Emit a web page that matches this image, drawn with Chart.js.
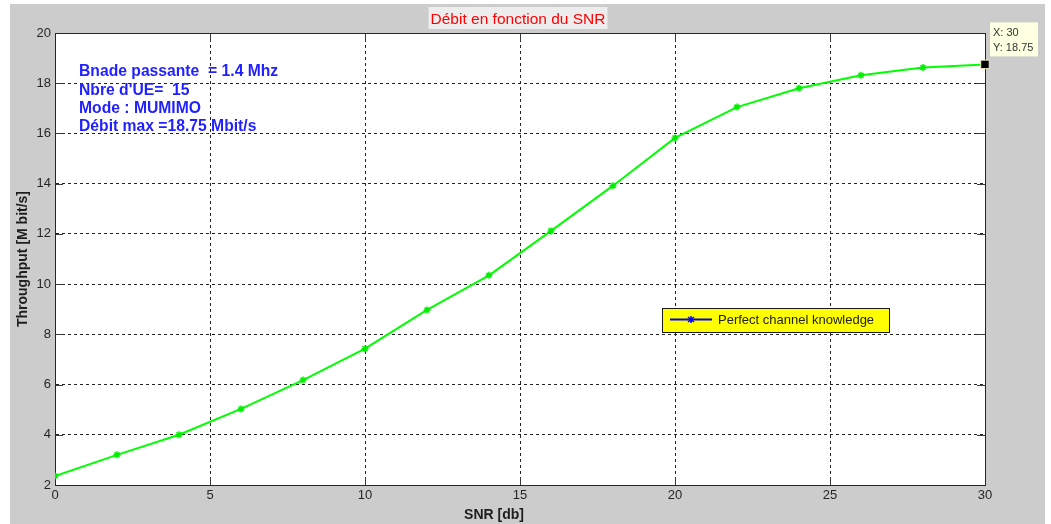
<!DOCTYPE html>
<html>
<head>
<meta charset="utf-8">
<script src="https://cdn.jsdelivr.net/npm/chart.js@4"></script>
<style>
  html, body { margin: 0; padding: 0; background: #ffffff; }
  #wrap { width: 1051px; height: 524px; }
</style>
</head>
<body>
<div id="wrap"><canvas id="snr" width="1051" height="524"></canvas></div>
<script>
// SNR [db] on x, throughput [Mbit/s] on y
var snrDb = [0, 2, 4, 6, 8, 10, 12, 14, 16, 18, 20, 22, 24, 26, 28, 30];
var throughput = [2.36, 3.2, 4.0, 5.03, 6.18, 7.43, 8.97, 10.35, 12.12, 13.92, 15.82, 17.05, 17.8, 18.32, 18.63, 18.75];
var dataTip = {x: 30, y: 18.75};
var infoLines = ["Bnade passante  = 1.4 Mhz", "Nbre d'UE=  15", "Mode : MUMIMO", "Débit max =18.75 Mbit/s"];
var legendLabel = "Perfect channel knowledge";
var titleText = "Débit en fonction du SNR";
var xTitle = "SNR [db]";
var yTitle = "Throughput [M bit/s]";

var FONT = "'Liberation Sans', Arial, sans-serif";

// background, white axes box
var bgPlugin = {
	id: 'bg',
	beforeDraw: function(chart) {
		var c = chart.ctx, a = chart.chartArea;
		c.save();
		c.fillStyle = '#ffffff';
		c.fillRect(0, 0, chart.width, chart.height);
		c.fillStyle = '#cccccc';
		c.fillRect(10, 4, 1035, 520);
		c.fillStyle = '#ffffff';
		c.fillRect(a.left, a.top, a.right - a.left, a.bottom - a.top);
		c.restore();
	}
};

// matlab style: box, inside ticks, titles, text, legend, datatip
var decoPlugin = {
	id: 'deco',
	beforeDatasetsDraw: function(chart) {
		var c = chart.ctx, a = chart.chartArea;
		var xs = chart.scales.x, ys = chart.scales.y;
		c.save();
		// ticks inside on all sides
		c.strokeStyle = '#3a3a3a';
		c.lineWidth = 1;
		c.beginPath();
		xs.ticks.forEach(function(t) {
			var px = Math.round(xs.getPixelForValue(t.value)) + 0.5;
			c.moveTo(px, a.bottom); c.lineTo(px, a.bottom - 8);
			c.moveTo(px, a.top); c.lineTo(px, a.top + 8);
		});
		ys.ticks.forEach(function(t) {
			var py = Math.round(ys.getPixelForValue(t.value)) + 0.5;
			c.moveTo(a.left, py); c.lineTo(a.left + 8, py);
			c.moveTo(a.right, py); c.lineTo(a.right - 8, py);
		});
		c.stroke();
		// box
		c.strokeStyle = '#262626';
		c.strokeRect(Math.round(a.left) + 0.5, Math.round(a.top) + 0.5,
			Math.round(a.right - a.left), Math.round(a.bottom - a.top));
		c.restore();
	},
	afterDatasetsDraw: function(chart) {
		var c = chart.ctx, a = chart.chartArea;
		var xs = chart.scales.x, ys = chart.scales.y;
		c.save();
		// title
		c.font = '15.5px ' + FONT;
		var tw = c.measureText(titleText).width;
		c.fillStyle = '#ededed';
		c.fillRect(518 - tw / 2 - 2, 7, tw + 4, 22);
		c.fillStyle = '#ff0000';
		c.textAlign = 'center';
		c.textBaseline = 'alphabetic';
		c.fillText(titleText, 518, 24);

		// axis titles
		c.fillStyle = '#1e1e1e';
		c.font = 'bold 14px ' + FONT;
		c.fillText(xTitle, 494, 519);
		c.save();
		c.translate(27, (a.top + a.bottom) / 2);
		c.rotate(-Math.PI / 2);
		c.fillText(yTitle, 0, 0);
		c.restore();

		// info text
		c.textAlign = 'left';
		c.fillStyle = '#1f1fff';
		c.font = 'bold 15.7px ' + FONT;
		var base = [76, 94.5, 113, 131];
		infoLines.forEach(function(s, i) { c.fillText(s, 79, base[i]); });

		// legend box
		c.fillStyle = '#ffff00';
		c.fillRect(662, 308, 227, 24);
		c.strokeStyle = '#1a1a1a';
		c.strokeRect(662.5, 308.5, 227, 24);
		c.strokeStyle = '#0000ff';
		c.lineWidth = 2;
		c.beginPath(); c.moveTo(670, 319.5); c.lineTo(712, 319.5); c.stroke();
		c.lineWidth = 1.5;
		c.beginPath();
		c.moveTo(688, 317); c.lineTo(694, 322);
		c.moveTo(694, 317); c.lineTo(688, 322);
		c.moveTo(691, 316); c.lineTo(691, 323);
		c.stroke();
		c.fillStyle = '#222222';
		c.font = '13px ' + FONT;
		c.fillText(legendLabel, 718, 324);

		// datatip box
		var px = xs.getPixelForValue(dataTip.x), py = ys.getPixelForValue(dataTip.y);
		c.fillStyle = '#ffffe1';
		c.fillRect(px + 5, py - 42, 48, 34);
		c.fillStyle = '#333333';
		c.font = '11px ' + FONT;
		c.fillText('X: ' + dataTip.x, px + 8, py - 28);
		c.fillText('Y: ' + dataTip.y, px + 8, py - 13);
		c.restore();
	}
};

var ctx = document.getElementById('snr').getContext('2d');
var chart = new Chart(ctx, {
	type: 'line',
	data: {
		datasets: [
			{
				label: legendLabel,
				data: snrDb.map(function(d, i) { return {x: d, y: throughput[i]}; }),
				borderColor: '#00ff00',
				backgroundColor: '#00ff00',
				borderWidth: 2,
				tension: 0,
				pointStyle: 'star',
				pointRadius: 3.5,
				pointBorderWidth: 1.5,
				pointBorderColor: '#00ee00',
				fill: false,
				order: 1
			},
			{
				label: 'datatip',
				data: [dataTip],
				showLine: false,
				clip: false,
				order: 0,
				pointStyle: 'rect',
				pointRadius: 6,
				pointBackgroundColor: '#000000',
				pointBorderColor: '#f5f0c8',
				pointBorderWidth: 1
			}
		]
	},
	options: {
		responsive: false,
		animation: false,
		layout: { padding: { left: 10, top: 33, right: 66, bottom: 9 } },
		plugins: { legend: { display: false }, tooltip: { enabled: false }, title: { display: false } },
		scales: {
			x: {
				type: 'linear',
				min: 0, max: 30,
				afterFit: function(s) { s.height = 30; },
				ticks: { stepSize: 5, padding: 3, color: '#262626', font: { family: FONT, size: 13 }, maxRotation: 0 },
				grid: { color: '#222222', lineWidth: 1, drawTicks: false },
				border: { display: true, color: '#262626', width: 1, dash: [3, 3] }
			},
			y: {
				min: 2, max: 20,
				afterFit: function(s) { s.width = 45; },
				ticks: { stepSize: 2, padding: 4, color: '#262626', font: { family: FONT, size: 13 } },
				grid: { color: '#222222', lineWidth: 1, drawTicks: false },
				border: { display: true, color: '#262626', width: 1, dash: [3, 3] }
			}
		}
	},
	plugins: [bgPlugin, decoPlugin]
});
</script>
</body>
</html>
